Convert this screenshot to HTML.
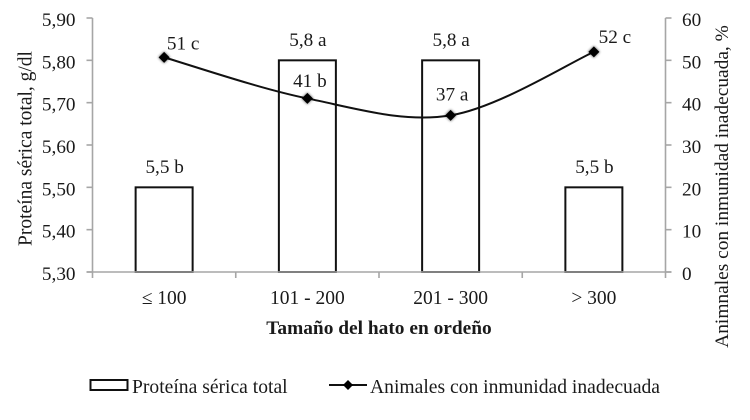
<!DOCTYPE html>
<html lang="es">
<head>
<meta charset="utf-8">
<title>Proteína sérica e inmunidad</title>
<style>
html,body{margin:0;padding:0;background:#fff;}
svg{display:block;filter:blur(0.35px);}
text{font-family:"Liberation Serif",serif;fill:#1a1a1a;}
</style>
</head>
<body>
<svg id="chart" xmlns="http://www.w3.org/2000/svg" width="750" height="420" viewBox="0 0 750 420">
  <defs>
    <filter id="soft" x="-100%" y="-100%" width="300%" height="300%"><feGaussianBlur stdDeviation="1.2"/></filter>
  </defs>
</svg>
<script>
const categories = ['≤ 100', '101 - 200', '201 - 300', '> 300'];
const proteinValues = [5.5, 5.8, 5.8, 5.5];
const proteinLabels = ['5,5 b', '5,8 a', '5,8 a', '5,5 b'];
const immunityValues = [50.7, 41, 37, 52];
const immunityLabels = ['51 c', '41 b', '37 a', '52 c'];
const leftTicks = [5.3, 5.4, 5.5, 5.6, 5.7, 5.8, 5.9];
const leftTickLabels = ['5,30', '5,40', '5,50', '5,60', '5,70', '5,80', '5,90'];
const rightTicks = [0, 10, 20, 30, 40, 50, 60];
const rightTickLabels = ['0', '10', '20', '30', '40', '50', '60'];

const svg = document.getElementById('chart');
const NS = 'http://www.w3.org/2000/svg';
const plot = {left: 92.5, right: 665.5, top: 18, bottom: 272};
const yLeft = v => plot.bottom - (v - 5.3) / 0.6 * (plot.bottom - plot.top);
const yRight = v => plot.bottom - v / 60 * (plot.bottom - plot.top);
const band = (plot.right - plot.left) / categories.length;
const xCat = i => plot.left + band * (i + 0.5);

function make(tag, attrs, text) {
  const el = document.createElementNS(NS, tag);
  for (const k in attrs) el.setAttribute(k, attrs[k]);
  if (text !== undefined) el.textContent = text;
  svg.appendChild(el);
  return el;
}
const axisColor = '#a6a6a6';
const fs = 19.2;
let el;

/* bars */
proteinValues.forEach((v, i) => {
  el = make('rect', {x: xCat(i) - 28.5, y: yLeft(v), width: 57, height: plot.bottom - yLeft(v), fill: '#fff', stroke: '#111', 'stroke-width': 2});
  
  
  el = make('text', {x: xCat(i) + 0.5, y: yLeft(v) - 14.3, 'font-size': fs, 'text-anchor': 'middle'}, proteinLabels[i]);
  
  
});

/* axes */
el = make('line', {x1: plot.left, x2: plot.left, y1: plot.top, y2: plot.bottom, stroke: axisColor, 'stroke-width': 1.6});


el = make('line', {x1: plot.right, x2: plot.right, y1: plot.top, y2: plot.bottom, stroke: axisColor, 'stroke-width': 1.6});


el = make('line', {x1: plot.left - 6, x2: plot.right + 6, y1: plot.bottom, y2: plot.bottom, stroke: axisColor, 'stroke-width': 1.6});



leftTicks.forEach((t, i) => {
  el = make('line', {x1: plot.left - 6, x2: plot.left, y1: yLeft(t), y2: yLeft(t), stroke: axisColor, 'stroke-width': 1.6});
  
  
  el = make('text', {x: 75.5, y: yLeft(t) + 8, 'font-size': fs, 'text-anchor': 'end'}, leftTickLabels[i]);
  
  
});
rightTicks.forEach((t, i) => {
  el = make('line', {x1: plot.right, x2: plot.right + 6, y1: yRight(t), y2: yRight(t), stroke: axisColor, 'stroke-width': 1.6});
  
  
  el = make('text', {x: 682, y: yRight(t) + 8, 'font-size': fs}, rightTickLabels[i]);
  
  
});
for (let i = 0; i <= categories.length; i++) {
  const x = plot.left + band * i;
  el = make('line', {x1: x, x2: x, y1: plot.bottom, y2: plot.bottom + 6, stroke: axisColor, 'stroke-width': 1.6});
  
  
}
categories.forEach((c, i) => {
  el = make('text', {x: xCat(i), y: 304, 'font-size': 19.5, 'text-anchor': 'middle'}, c);
  
  
});

/* smoothed line */
const pts = immunityValues.map((v, i) => [xCat(i), yRight(v)]);
let d = 'M' + pts[0][0] + ' ' + pts[0][1];
for (let i = 0; i < pts.length - 1; i++) {
  const p0 = pts[Math.max(i - 1, 0)], p1 = pts[i], p2 = pts[i + 1], p3 = pts[Math.min(i + 2, pts.length - 1)];
  const c1 = [p1[0] + (p2[0] - p0[0]) / 6, p1[1] + (p2[1] - p0[1]) / 6];
  const c2 = [p2[0] - (p3[0] - p1[0]) / 6, p2[1] - (p3[1] - p1[1]) / 6];
  d += ' C' + c1[0] + ' ' + c1[1] + ' ' + c2[0] + ' ' + c2[1] + ' ' + p2[0] + ' ' + p2[1];
}
el = make('path', {d: d, fill: 'none', stroke: '#111', 'stroke-width': 2});



const labelDx = [19, 2.5, 1.5, 21];
const labelDy = [-8, -11.5, -15, -8.7];
immunityValues.forEach((v, i) => {
  const x = xCat(i), y = yRight(v);
  el = make('polygon', {points: [x - 6, y, x, y - 6, x + 6, y, x, y + 6].join(' '), fill: '#000', opacity: 0.55, filter: 'url(#soft)'});
  
  
  el = make('polygon', {points: [x - 5.5, y, x, y - 5.5, x + 5.5, y, x, y + 5.5].join(' '), fill: '#000'});
  
  
  el = make('text', {x: x + labelDx[i], y: y + labelDy[i], 'font-size': fs, 'text-anchor': 'middle'}, immunityLabels[i]);
  
  
});

/* axis titles */
el = make('text', {transform: 'translate(31.5 148.5) rotate(-90)', 'font-size': 19.5, 'text-anchor': 'middle'}, 'Proteína sérica total, g/dl');


el = make('text', {transform: 'translate(728 186.5) rotate(-90)', 'font-size': 19.4, 'text-anchor': 'middle'}, 'Animnales con inmunidad inadecuada, %');


el = make('text', {x: 379, y: 334, 'font-size': 19.4, 'font-weight': 'bold', 'text-anchor': 'middle'}, 'Tamaño del hato en ordeño');



/* legend */
el = make('rect', {x: 90.5, y: 380, width: 37, height: 10, fill: '#fff', stroke: '#111', 'stroke-width': 2});


el = make('text', {x: 132, y: 393, 'font-size': 19.6}, 'Proteína sérica total');


el = make('line', {x1: 329, x2: 367, y1: 385, y2: 385, stroke: '#111', 'stroke-width': 2});


el = make('polygon', {points: '343,385 348,380 353,385 348,390', fill: '#000'});


el = make('text', {x: 370, y: 393, 'font-size': 19.6}, 'Animales con inmunidad inadecuada');


</script>
</body>
</html>
